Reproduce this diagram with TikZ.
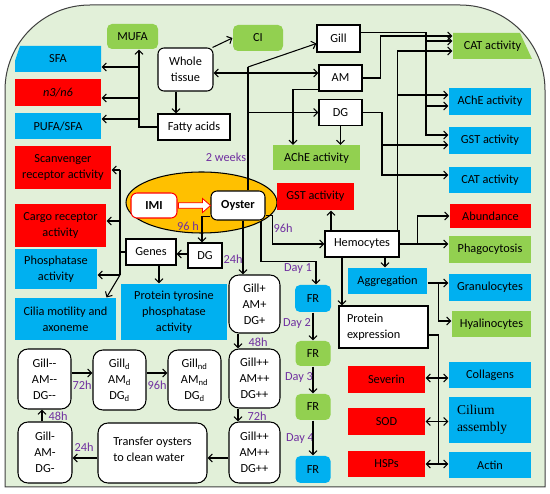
\documentclass[tikz,border=0pt]{standalone}
\usepackage{fontspec}
\setmainfont{Carlito}
\newfontfamily\timesfont{Liberation Serif}
\usetikzlibrary{arrows.meta,shapes.geometric}
\definecolor{cred}{HTML}{FF0000}
\definecolor{cblue}{HTML}{00B0F0}
\definecolor{cgreen}{HTML}{92D050}
\definecolor{cpurple}{HTML}{7030A0}
\definecolor{cbg}{HTML}{E2F0D9}
\definecolor{corange}{HTML}{FFC000}
\begin{document}
\begin{tikzpicture}[x=1pt, y=-1pt, line width=1.05pt,
    >={Straight Barb[length=4pt,width=8pt]},
    every node/.style={font=\fontsize{12.3}{16}\selectfont, inner sep=2pt},
    sz/.style 2 args={minimum width=#1pt, minimum height=#2pt},
    wbox/.style={draw, fill=white, align=center},
    rwbox/.style={wbox, rounded corners=6pt},
    gbox/.style={wbox, rounded corners=10pt},
    redbox/.style={fill=cred, align=center},
    bluebox/.style={fill=cblue, align=center},
    greenbox/.style={fill=cgreen, align=center},
    lbl/.style={text=cpurple}]
  \useasboundingbox (0,0) rectangle (550,494);
  \filldraw[fill=cbg, draw=black!75, line width=1pt] (5,487) -- (5,90) arc[start angle=180, end angle=90, radius=85pt]
    -- (460,5) arc[start angle=90, end angle=0, radius=85pt] -- (545,487) -- cycle;

  \fill[cblue] (15,72) -- (15,61) -- (20,46) -- (101,46) -- (101,72) -- cycle;
  \node[sz={86}{26}] (sfa) at (58,59) {SFA};
  \node[redbox, sz={86}{27}] (n3) at (58,92.5) {\textit{n3/n6}};
  \node[bluebox, sz={86}{26}] (pufa) at (58,126) {PUFA/SFA};
  \node[redbox, sz={96}{43}] (scav) at (63,167.5) {Scanvenger\\receptor activity};
  \node[redbox, sz={91}{43}] (cargo) at (60.5,225.5) {Cargo receptor\\activity};
  \node[bluebox, sz={82}{40}] (phos) at (56,269) {Phosphatase\\activity};
  \node[bluebox, sz={101}{42}] (cilia) at (65.5,319) {Cilia motility and\\axoneme};

  \node[greenbox, rounded corners=5pt, sz={51}{25}] (mufa) at (132.5,36.5) {MUFA};
  \node[greenbox, rounded corners=5pt, sz={50}{26}] (ci) at (258,38) {CI};
  \node[rwbox, sz={55}{43}] (whole) at (185.5,69.5) {Whole\\tissue};
  \node[wbox, sz={72}{26}] (fatty) at (194,127) {Fatty acids};

  \node[wbox, sz={43}{27}] (gill) at (338.5,38.5) {Gill};
  \node[wbox, sz={43}{26}] (am) at (340.5,78) {AM};
  \node[wbox, sz={43}{26}] (dgt) at (340.5,112.5) {DG};
  \node[greenbox, sz={87}{25}] (achg) at (316.5,158) {AChE activity};

  \fill[cgreen] (453,33) -- (520,33) -- (532,59) -- (453,59) -- cycle;
  \node[sz={79}{26}] (catg) at (492.5,46) {CAT activity};
  \node[bluebox, sz={82}{27}] (achb) at (490,101.5) {AChE activity};
  \node[bluebox, sz={82}{27}] (gstb) at (490,140.5) {GST activity};
  \node[bluebox, sz={82}{26}] (catb) at (490,180) {CAT activity};
  \node[redbox, sz={81}{24}] (abund) at (490.5,216) {Abundance};
  \node[greenbox, sz={82}{27}] (phago) at (490,249.5) {Phagocytosis};
  \node[bluebox, sz={82}{27}] (gran) at (490,287.5) {Granulocytes};
  \node[greenbox, sz={79}{26}] (hyal) at (491.5,324) {Hyalinocytes};
  \node[bluebox, sz={82}{26}] (coll) at (490,375) {Collagens};
  \node[bluebox, sz={82}{46}, align=left, text width=66pt, font=\timesfont\fontsize{13.5}{17}\selectfont] (cil) at (490,420) {Cilium\\assembly};
  \node[bluebox, sz={82}{26}] (actin) at (490,465) {Actin};

  \node[draw, fill=corange, ellipse, sz={151}{61}] (shell) at (201.5,202.5) {};
  \node[rwbox, draw=red, sz={46}{25}] (imi) at (154,205.5) {\bfseries IMI};
  \node[rwbox, sz={54}{29}] (oyster) at (238,205.5) {\bfseries Oyster};
  \node[wbox, sz={34}{25}] (dgs) at (205,255.5) {DG};
  \node[wbox, sz={50}{26}] (genes) at (151,252) {Genes};
  \node[bluebox, sz={106}{56}] (ptp) at (174,312) {Protein tyrosine\\phosphatase\\activity};
  \node[redbox, sz={77}{27}] (gstr) at (315.5,196.5) {GST activity};
  \node[wbox, sz={74}{26}] (hemo) at (362,244) {Hemocytes};
  \node[bluebox, sz={79}{26}] (aggr) at (387.5,281) {Aggregation};
  \node[wbox, sz={89}{42}, align=left, text width=73pt] (prot) at (383.5,327) {Protein\\expression};
  \node[redbox, sz={77}{27}] (sev) at (386.5,379.5) {Severin};
  \node[redbox, sz={77}{27}] (sod) at (386.5,421.5) {SOD};
  \node[redbox, sz={77}{26}] (hsp) at (386.5,464) {HSPs};

  \node[bluebox, rounded corners=5pt, sz={36}{27}] (fr1) at (313,298.5) {FR};
  \node[greenbox, rounded corners=5pt, sz={35}{25}] (fr2) at (313,353.5) {FR};
  \node[greenbox, rounded corners=5pt, sz={35}{26}] (fr3) at (313,407) {FR};
  \node[bluebox, rounded corners=5pt, sz={35}{27}] (fr4) at (313,469.5) {FR};

  \node[gbox, sz={51}{58}] (g1) at (254.5,304) {Gill+\\AM+\\DG+};
  \node[gbox, sz={51}{59}] (g2) at (254.5,378.5) {Gill++\\AM++\\DG++};
  \node[gbox, sz={51}{61}] (g3) at (254.5,452.5) {Gill++\\AM++\\DG++};
  \node[gbox, sz={109}{60}, align=left] (transfer) at (152.5,453) {Transfer oysters\\to clean water\\[-8pt]\mbox{}};
  \node[gbox, sz={54}{61}] (g4) at (45,452.5) {Gill-\\AM-\\DG-};
  \node[gbox, sz={53}{60}] (g5) at (44.5,379) {Gill-{}-\\AM-{}-\\DG-{}-};
  \node[gbox, sz={53}{60}] (g6) at (119.5,380) {Gill\textsubscript{d}\\AM\textsubscript{d}\\DG\textsubscript{d}};
  \node[gbox, sz={53}{60}] (g7) at (194.5,380) {Gill\textsubscript{nd}\\AM\textsubscript{nd}\\DG\textsubscript{d}};

  \node[lbl] (l2w) at (226,157) {2 weeks};
  \node[lbl] (l96a) at (188,226) {96 h};
  \node[lbl] (l96b) at (283,228) {96h};
  \node[lbl] (l24a) at (233,259) {24h};
  \node[lbl] (ld1) at (298,269) {Day 1};
  \node[lbl] (ld2) at (297,324) {Day 2};
  \node[lbl] (ld3) at (299,378) {Day 3};
  \node[lbl] (ld4) at (300,439) {Day 4};
  \node[lbl] (l48a) at (258,342) {48h};
  \node[lbl] (l72a) at (257,416) {72h};
  \node[lbl] (l72b) at (82,385) {72h};
  \node[lbl] (l96c) at (157,385) {96h};
  \node[lbl] (l48b) at (58,416) {48h};
  \node[lbl] (l24b) at (84,447) {24h};

  \coordinate (ft) at (139,127);
  \draw[->] (fatty.west) -- (ft) -- (ft |- mufa.south);
  \draw[<-] ([yshift=-8pt]sfa.east) -- ([yshift=-8pt]sfa.east -| ft);
  \draw[<-] ([yshift=-5.5pt]n3.east) -- ([yshift=-5.5pt]n3.east -| ft);
  \draw[<-] ([yshift=7pt]pufa.east) -- ([yshift=7pt]pufa.east -| ft);
  \draw[->] ([xshift=-9.5pt]whole.south) -- ([xshift=-9.5pt]whole.south |- fatty.north);
  \draw[->] ([xshift=-1pt]whole.north east) -- (ci.west);

  \coordinate (ot) at (248,67);
  \coordinate (oh) at (248,73);
  \draw ([xshift=10pt]oyster.north) -- (ot);
  \draw[->] (ot) -- ([yshift=-5pt]gill.west);
  \draw[->] (oh) -- (oh -| whole.east);
  \draw[->] (oh) -- (oh -| am.west);
  \draw[->] (ot |- dgt.west) -- (dgt.west);
  \draw[->] ([yshift=2pt]am.south west) -| ([xshift=-23.5pt]achg.north);
  \draw[->] (dgt.south) -- (dgt.south |- achg.north);

  \coordinate (gx) at (426,0);
  \draw[->] ([yshift=6pt]gill.east) -| ([yshift=5.5pt]gstb.west -| gx) -- ([yshift=5.5pt]gstb.west);
  \draw[->] ([yshift=5pt]catg.west -| gx) -- ([yshift=5pt]catg.west);
  \draw[->] ([yshift=-4.5pt]achb.west -| gx) -- ([yshift=-4.5pt]achb.west);
  \draw[->] (am.east) -- ++(18,0) |- ([yshift=10pt]catg.west);
  \coordinate (dx) at (382,0);
  \draw[->] (dgt.east) -| ([yshift=5pt]catb.west -| dx) -- ([yshift=5pt]catb.west);
  \draw[->] ([yshift=-4.5pt]gstb.west -| dx) -- ([yshift=-4.5pt]gstb.west);
  \coordinate (hx) at (397,0);
  \draw[->] ([xshift=-2pt]hemo.north east) |- ([yshift=-5pt]catg.west);
  \draw[->] ([yshift=6.5pt]achb.west -| hx) -- ([yshift=6.5pt]achb.west);

  \draw[->] ([xshift=-31pt]hemo.north) -- ([xshift=-31pt]hemo.north |- gstr.south);
  \draw[->] (hemo.east) -- (hemo.east -| phago.west);
  \draw[->] ([xshift=18pt]hemo.east) |- (abund.west);
  \draw[->] ([xshift=23pt]hemo.south) -- ([xshift=23pt]hemo.south |- aggr.north);
  \draw[->] ([xshift=-20pt]hemo.south) -- ([xshift=-20pt]hemo.south |- prot.north);
  \draw[->] ([yshift=-2pt]aggr.east) -- ([yshift=-2pt]aggr.east -| gran.west);
  \draw[->] ([xshift=11pt,yshift=-2pt]aggr.east) |- ([yshift=3pt]hyal.west);
  \draw ([yshift=-8pt]prot.east) -| ([xshift=10pt]prot.east |- hsp.east);
  \draw[<->] ([yshift=1.5pt]sev.east) -- ([yshift=1.5pt]sev.east -| coll.west);
  \draw[<->] (sod.east) -- (sod.east -| cil.west);
  \draw[<->] (hsp.east) -- (hsp.east -| actin.west);

  \draw[->] ([yshift=4pt]oyster.south west) -| ([xshift=-3pt]dgs.north);
  \draw[->] ([yshift=1.5pt]dgs.west) -- ([yshift=1.5pt]dgs.west -| genes.east);
  \draw[->] ([xshift=8pt]genes.south) -- ([xshift=8pt]genes.south |- ptp.north);
  \coordinate (lt) at (120,170);
  \coordinate (lb) at (120,275);
  \draw (genes.west) -- (genes.west -| lt);
  \draw (lt) -- (lb);
  \draw[->] (lt) -- (lt -| scav.east);
  \draw[->] ([yshift=4.5pt]cargo.east -| lt) -- ([yshift=4.5pt]cargo.east);
  \draw[->] (lb) -- (lb -| phos.east);
  \draw[->] (lb) -- ([xshift=-10pt]cilia.north east);

  \draw[red, fill=white, line width=0.8pt] (imi.east) +(1,-2.7) -- +(25,-2.7) -- +(25,-7) -- +(33,0)
    -- +(25,7) -- +(25,2.7) -- +(1,2.7) -- cycle;
  \draw[->] ([xshift=5pt]oyster.south) -- ([xshift=5pt]oyster.south |- g1.north);
  \draw[->] ([xshift=23pt]oyster.south) |- ([xshift=3pt,yshift=23pt]fr1.north) -- ([xshift=3pt]fr1.north);
  \draw[->] ([yshift=5pt]oyster.south east) -- ++(7,0) |- (hemo.west);
  \draw[->] (fr1) -- (fr2);
  \draw[->] (fr2) -- (fr3);
  \draw[->] (fr3) -- (fr4);

  \draw[->] ([xshift=-16.5pt]g1.south) -- ([xshift=-16.5pt]g2.north);
  \draw[->] ([xshift=-16.5pt]g2.south) -- ([xshift=-16.5pt]g3.north);
  \draw[->] ([yshift=-5.5pt]g3.west) -- ([yshift=-5.5pt]g3.west -| transfer.east);
  \draw[->] ([yshift=-5pt]transfer.west) -- ([yshift=-5pt]transfer.west -| g4.east);
  \draw[->] ([xshift=-3pt]g4.north) -- ([xshift=-3pt]g4.north |- g5.south);
  \draw[->] ([yshift=6pt]g5.east) -- ([yshift=6pt]g5.east -| g6.west);
  \draw[->] ([yshift=7pt]g6.east) -- ([yshift=7pt]g6.east -| g7.west);
\end{tikzpicture}
\end{document}
